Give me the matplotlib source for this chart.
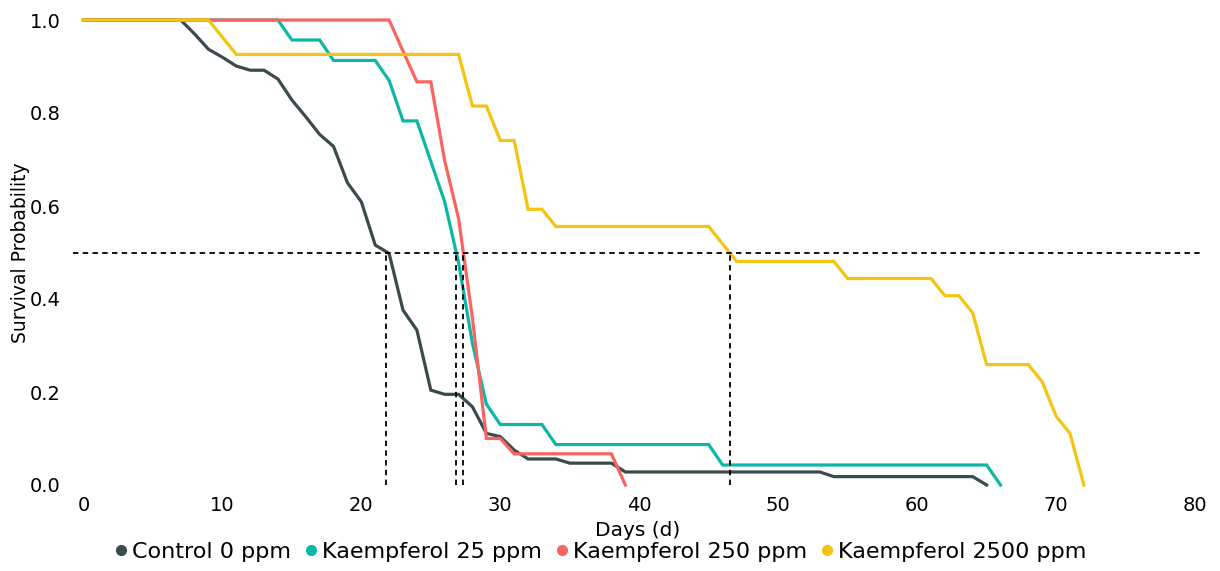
import matplotlib
matplotlib.use("Agg")
import matplotlib.pyplot as plt
from matplotlib.lines import Line2D

# ---- data (vertices) ----
control_days = [0, 7, 8, 9, 10, 11, 12, 13, 14, 15, 16, 17, 18, 19, 20, 21, 22, 23, 24, 25,
                26, 27, 28, 29, 30, 31, 32, 34, 35, 38, 39, 53, 54, 64, 65]
control_surv = [1, 1, .970, .937, .920, .901, .892, .892, .873, .828, .792, .754, .728, .650,
                .609, .516, .498, .376, .333, .204, .195, .195, .168, .111, .104, .075, .056,
                .056, .047, .047, .028, .028, .018, .018, 0]

k25_days = [0, 14, 15, 17, 18, 21, 22, 23, 24, 25, 26, 27, 28, 29, 30, 33, 34, 45, 46, 65, 66]
k25_surv = [1, 1, .957, .957, .913, .913, .870, .783, .783, .696, .609, .478, .304, .174,
            .130, .130, .087, .087, .043, .043, 0]

k250_days = [0, 22, 23, 24, 25, 26, 27, 28, 29, 30, 31, 38, 39]
k250_surv = [1, 1, .933, .867, .867, .697, .573, .358, .100, .100, .067, .067, 0]

k2500_days = [0, 9, 11, 27, 28, 29, 30, 31, 32, 33, 34, 45, 47, 54, 55, 61, 62, 63, 64, 65,
              68, 69, 70, 71, 72]
k2500_surv = [1, 1, .926, .926, .815, .815, .741, .741, .593, .593, .556, .556, .481, .481,
              .444, .444, .407, .407, .370, .259, .259, .222, .148, .111, 0]

labels = ["Control 0 ppm", "Kaempferol 25 ppm", "Kaempferol 250 ppm", "Kaempferol 2500 ppm"]
colors = ["#3b4a4d", "#0db7a6", "#fa6460", "#f4c410"]
median_days = [21.8, 26.8, 27.35, 46.5]
median_level = 0.5

x_ticks = [0, 10, 20, 30, 40, 50, 60, 70, 80]
y_ticks = [0.0, 0.2, 0.4, 0.6, 0.8, 1.0]

# ---- figure ----
plt.rcParams['font.family'] = ['DejaVu Sans']
fig = plt.figure(figsize=(12.2, 5.71), dpi=100)
ax = fig.add_axes([73 / 1220, 86 / 571, 1129 / 1220, 465 / 571])

series = [(control_days, control_surv), (k25_days, k25_surv),
          (k250_days, k250_surv), (k2500_days, k2500_surv)]
for (d, s), c in zip(series, colors):
    ax.plot(d, s, color=c, lw=2.3, clip_on=False, solid_joinstyle='miter', zorder=2)

dash = (0, (3, 2.4))
ax.axhline(median_level, color='black', lw=1.3, linestyle=dash, zorder=3)
for m in median_days:
    ax.plot([m, m], [0, median_level], color='black', lw=1.3, linestyle=dash, zorder=3)

ax.set_xlim(-0.75, 80.5)
ax.set_ylim(0, 1)
ax.set_xticks(x_ticks)
ax.set_xticklabels([str(t) for t in x_ticks])
ax.set_yticks(y_ticks)
ax.set_yticklabels([f"{t:.1f}" for t in y_ticks])
ax.tick_params(axis='both', length=0, labelsize=14, colors='black')
ax.tick_params(axis='x', pad=8)
ax.tick_params(axis='y', pad=9)
for sp in ax.spines.values():
    sp.set_visible(False)

ax.set_xlabel("Days (d)", fontsize=14.5, labelpad=4)
ax.set_ylabel("Survival Probability", fontsize=13.5, labelpad=0)

handles = [Line2D([], [], linestyle='none', marker='o', markersize=7, color=c) for c in colors]
fig.legend(handles, labels, loc='center', bbox_to_anchor=(601 / 1220, 1 - 552 / 571),
           ncol=4, frameon=False, fontsize=16, handlelength=0.5, handletextpad=0.25,
           columnspacing=0.65, borderpad=0)

fig.savefig("out.png", dpi=100)
